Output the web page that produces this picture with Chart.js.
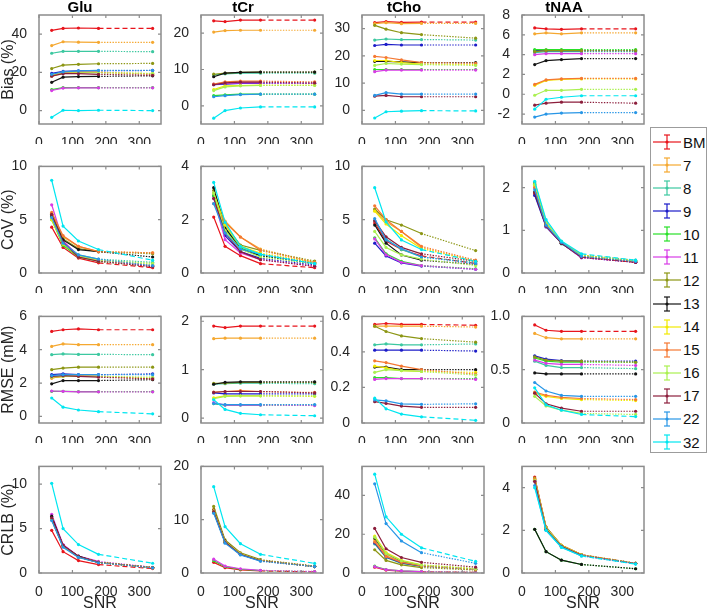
<!DOCTYPE html>
<html>
<head>
<meta charset="utf-8">
<script src="https://cdn.jsdelivr.net/npm/chart.js@4.4.1/dist/chart.umd.min.js"></script>
<style>
  body { margin: 0; background: #fff; width: 709px; height: 611px; position: relative; overflow: hidden; font-family: "Liberation Sans", Arial, sans-serif; }
  canvas { position: absolute; }
  #legend { position: absolute; left: 650px; top: 127px; width: 57px; height: 326px; border: 1px solid #9c9c9c; box-sizing: border-box; background: #fff; }
  .item { position: absolute; left: 1px; height: 20px; display: flex; align-items: center; font-size: 15px; color: #111; }
  .item svg { display: block; margin-right: 1px; }
</style>
</head>
<body>
<div id="legend"></div>
<script>
const snr = [38, 72, 118, 178, 340];
const xTicks = [0, 100, 200, 300];
const xRange = [0, 365];

const groups = ["BM", "7", "8", "9", "10", "11", "12", "13", "14", "15", "16", "17", "22", "32"];
const colors = ["#e8141c", "#f5a830", "#3cc8a0", "#1c1cc8", "#28e028", "#d83ce6", "#8c9614",
                "#141414", "#f2ea00", "#f57832", "#aaf050", "#8c1e3c", "#2896e6", "#00e6f0"];

const metabolites = ["Glu", "tCr", "tCho", "tNAA"];
const rowTitles = ["Bias (%)", "CoV (%)", "RMSE (mM)", "CRLB (%)"];

const biasGlu = [
  [42, 43, 43.2, 43, 43], [34, 36, 35.8, 35.7, 35.7], [30, 31, 31, 31, 30.8], [19.5, 20.5, 20.8, 20.8, 21],
  [11, 12, 12, 12, 12], [10.5, 11.8, 11.9, 11.9, 11.9], [22, 23.8, 24.2, 24.5, 24.7], [14.8, 17.5, 17.8, 17.9, 18.2],
  [18.5, 20, 20, 20, 19.3], [18, 19.8, 20.2, 20, 19], [18.2, 19.5, 19.8, 19.8, 19.5], [18, 19.3, 19.3, 19, 18.5],
  [19, 20.3, 20.8, 21, 21], [-3.5, 0.2, 0, 0.2, 0]
];
const biasTCr = [
  [23.4, 23.2, 23.6, 23.6, 23.6], [20.3, 20.7, 20.8, 20.8, 20.8], [8.5, 8.8, 9.0, 9.0, 9.0], [5.8, 6.0, 6.2, 6.2, 6.2],
  [2.8, 3.0, 3.2, 3.2, 3.2], [6.0, 6.2, 6.3, 6.3, 6.2], [8.7, 9.0, 9.2, 9.3, 9.3], [8.0, 9.0, 9.2, 9.3, 9.3],
  [4.5, 5.5, 5.6, 5.7, 5.7], [6.0, 6.6, 6.8, 6.8, 6.6], [4.2, 5.2, 5.5, 5.6, 5.6], [5.8, 6.3, 6.5, 6.5, 6.3],
  [2.5, 2.8, 3.1, 3.2, 3.2], [-3.4, -1.3, -0.6, -0.3, -0.3]
];
const biasTCho = [
  [32.2, 32.6, 32.3, 32.4, 32.4], [31.8, 32.2, 31.8, 31.9, 31.9], [25.8, 26.2, 26, 26, 25.8], [23.8, 24.2, 24, 24, 24],
  [15, 15, 15, 15, 15], [14.2, 14.8, 14.8, 14.8, 14.8], [31.2, 29.8, 28.5, 27.8, 26.5], [18, 18, 17.8, 17.5, 17.5],
  [18.3, 18.3, 17.5, 17, 16.8], [19.8, 19.4, 18.5, 17.5, 17.3], [16.5, 17.2, 17, 16.8, 16.5], [5.2, 5.5, 5, 5, 5],
  [5.5, 6.5, 6, 6, 6], [-2.8, -0.5, -0.3, -0.1, -0.2]
];
const biasTNAA = [
  [6.7, 6.6, 6.55, 6.6, 6.6], [6.1, 6.2, 6.1, 6.2, 6.2], [4.2, 4.3, 4.3, 4.3, 4.3], [4.4, 4.4, 4.4, 4.4, 4.4],
  [4.5, 4.5, 4.5, 4.5, 4.5], [4.0, 4.1, 4.1, 4.1, 4.1], [4.3, 4.4, 4.4, 4.4, 4.4], [3.0, 3.4, 3.5, 3.6, 3.6],
  [0.9, 1.4, 1.5, 1.55, 1.55], [1.0, 1.45, 1.55, 1.6, 1.6], [-0.1, 0.4, 0.4, 0.5, 0.5], [-1.1, -0.9, -0.8, -0.8, -0.9],
  [-2.3, -2.0, -1.9, -1.85, -1.85], [-1.5, -0.5, -0.3, -0.15, -0.15]
];

const covGlu = [
  [4.3, 2.4, 1.4, 0.95, 0.5], [5.6, 3.4, 2.5, 2.0, 1.9], [5.3, 2.9, 1.7, 1.3, 1.0], [5.4, 2.7, 1.6, 1.2, 0.7],
  [5.0, 2.6, 1.5, 1.1, 0.6], [6.4, 3.0, 1.6, 1.2, 0.6], [5.5, 3.2, 2.3, 2.0, 1.8], [5.3, 3.1, 2.2, 2.0, 1.5],
  [5.0, 2.7, 1.6, 1.2, 0.8], [5.7, 3.5, 2.5, 2.0, 1.9], [5.2, 2.8, 1.6, 1.2, 0.9], [5.5, 2.9, 1.5, 1.1, 0.6],
  [5.2, 2.8, 1.7, 1.3, 0.7], [8.7, 4.4, 3.0, 2.2, 1.2]
];
const covTCr = [
  [2.1, 1.0, 0.65, 0.35, 0.2], [2.9, 1.95, 1.35, 0.9, 0.4], [3.0, 1.7, 1.0, 0.7, 0.4], [2.9, 1.4, 0.8, 0.55, 0.3],
  [2.9, 1.6, 0.95, 0.65, 0.35], [2.8, 1.25, 0.75, 0.5, 0.25], [3.1, 1.8, 1.05, 0.85, 0.45], [3.2, 1.7, 0.9, 0.65, 0.35],
  [3.0, 1.8, 1.0, 0.75, 0.4], [2.6, 1.9, 1.35, 0.85, 0.4], [3.0, 1.6, 0.9, 0.6, 0.35], [2.8, 1.5, 0.8, 0.5, 0.25],
  [2.6, 1.5, 0.9, 0.7, 0.35], [3.4, 1.9, 1.0, 0.7, 0.35]
];
const covTCho = [
  [4.7, 3.0, 2.2, 1.6, 0.9], [5.9, 4.8, 3.9, 2.4, 1.1], [4.9, 3.2, 2.2, 1.5, 1.0], [2.8, 1.6, 0.95, 0.65, 0.35],
  [3.3, 1.8, 1.1, 0.7, 0.4], [3.2, 1.7, 1.0, 0.7, 0.35], [6.0, 5.0, 4.5, 3.7, 2.1], [4.5, 2.8, 1.7, 1.2, 0.8],
  [5.8, 4.6, 3.5, 2.3, 1.1], [6.3, 5.0, 3.9, 2.5, 1.2], [3.9, 2.4, 1.7, 1.3, 0.7], [4.9, 3.4, 2.4, 1.8, 1.1],
  [5.1, 3.1, 2.3, 1.5, 0.9], [8.0, 4.8, 3.1, 2.2, 1.1]
];
const covTNAA = [
  [1.85, 1.1, 0.7, 0.37, 0.25], [2.05, 1.15, 0.72, 0.4, 0.27], [2.12, 1.2, 0.68, 0.42, 0.3], [1.82, 1.08, 0.7, 0.36, 0.25],
  [2.08, 1.15, 0.7, 0.4, 0.28], [2.0, 1.1, 0.7, 0.36, 0.25], [2.1, 1.15, 0.72, 0.42, 0.28], [1.9, 1.12, 0.7, 0.38, 0.26],
  [2.05, 1.18, 0.74, 0.42, 0.28], [2.0, 1.15, 0.72, 0.4, 0.27], [2.08, 1.17, 0.73, 0.41, 0.28], [1.88, 1.1, 0.7, 0.37, 0.25],
  [1.95, 1.12, 0.72, 0.39, 0.27], [2.15, 1.25, 0.75, 0.45, 0.3]
];

const rmseGlu = [
  [5.1, 5.2, 5.25, 5.2, 5.2], [4.2, 4.35, 4.3, 4.3, 4.3], [3.7, 3.75, 3.72, 3.72, 3.7], [2.5, 2.55, 2.5, 2.5, 2.55],
  [1.5, 1.5, 1.48, 1.48, 1.48], [1.52, 1.5, 1.47, 1.47, 1.47], [2.8, 2.9, 2.95, 2.95, 2.95], [1.95, 2.15, 2.15, 2.15, 2.2],
  [2.3, 2.4, 2.4, 2.4, 2.3], [2.3, 2.4, 2.45, 2.4, 2.25], [2.35, 2.4, 2.4, 2.4, 2.35], [2.4, 2.45, 2.4, 2.35, 2.25],
  [2.45, 2.5, 2.5, 2.5, 2.5], [1.1, 0.55, 0.38, 0.28, 0.15]
];
const rmseTCr = [
  [1.9, 1.87, 1.9, 1.9, 1.9], [1.64, 1.65, 1.65, 1.65, 1.65], [0.7, 0.71, 0.72, 0.72, 0.71], [0.52, 0.5, 0.5, 0.5, 0.5],
  [0.3, 0.27, 0.27, 0.27, 0.27], [0.32, 0.27, 0.27, 0.27, 0.26], [0.72, 0.72, 0.74, 0.74, 0.74], [0.7, 0.74, 0.75, 0.75, 0.75],
  [0.42, 0.46, 0.46, 0.46, 0.45], [0.54, 0.55, 0.57, 0.55, 0.53], [0.4, 0.45, 0.46, 0.46, 0.46], [0.53, 0.55, 0.55, 0.55, 0.52],
  [0.3, 0.28, 0.28, 0.28, 0.28], [0.38, 0.18, 0.1, 0.07, 0.05]
];
const rmseTCho = [
  [0.555, 0.56, 0.555, 0.555, 0.55], [0.545, 0.545, 0.545, 0.545, 0.54], [0.44, 0.445, 0.44, 0.44, 0.445], [0.41, 0.41, 0.41, 0.41, 0.405],
  [0.255, 0.255, 0.25, 0.25, 0.25], [0.245, 0.25, 0.25, 0.25, 0.245], [0.545, 0.515, 0.49, 0.475, 0.455], [0.315, 0.315, 0.3, 0.3, 0.3],
  [0.32, 0.31, 0.295, 0.29, 0.285], [0.35, 0.34, 0.32, 0.3, 0.275], [0.285, 0.3, 0.295, 0.29, 0.27], [0.12, 0.11, 0.095, 0.088, 0.088],
  [0.13, 0.125, 0.108, 0.105, 0.108], [0.14, 0.08, 0.05, 0.035, 0.015]
];
const rmseTNAA = [
  [0.92, 0.87, 0.86, 0.86, 0.86], [0.84, 0.8, 0.79, 0.79, 0.79], [0.58, 0.54, 0.52, 0.52, 0.51], [0.63, 0.6, 0.585, 0.58, 0.58],
  [0.61, 0.58, 0.57, 0.57, 0.57], [0.59, 0.56, 0.55, 0.55, 0.54], [0.62, 0.59, 0.58, 0.58, 0.57], [0.47, 0.46, 0.46, 0.46, 0.46],
  [0.28, 0.25, 0.23, 0.22, 0.21], [0.29, 0.26, 0.24, 0.23, 0.22], [0.25, 0.16, 0.12, 0.09, 0.08], [0.28, 0.18, 0.14, 0.11, 0.11],
  [0.38, 0.3, 0.26, 0.25, 0.25], [0.33, 0.17, 0.12, 0.08, 0.06]
];

const crlbGlu = [
  [4.8, 2.4, 1.4, 0.95, 0.5], [6.1, 3.0, 1.8, 1.2, 0.6], [6.0, 3.0, 1.8, 1.2, 0.6], [6.0, 3.0, 1.8, 1.2, 0.6],
  [6.2, 3.1, 1.85, 1.2, 0.62], [6.6, 3.2, 1.9, 1.3, 0.65], [6.1, 3.0, 1.8, 1.2, 0.6], [6.4, 3.1, 1.9, 1.2, 0.62],
  [6.0, 3.0, 1.8, 1.2, 0.6], [6.1, 3.0, 1.8, 1.2, 0.6], [6.0, 3.0, 1.8, 1.2, 0.6], [6.2, 3.1, 1.85, 1.2, 0.6],
  [5.9, 2.9, 1.75, 1.15, 0.58], [10.1, 5.0, 3.2, 2.1, 1.1]
];
const crlbTCr = [
  [2.0, 1.0, 0.6, 0.4, 0.2], [12.0, 6.0, 3.7, 2.4, 1.25], [11.5, 5.8, 3.5, 2.3, 1.2], [11.5, 5.8, 3.5, 2.3, 1.2],
  [2.3, 1.2, 0.7, 0.45, 0.25], [2.6, 1.3, 0.8, 0.5, 0.28], [12.5, 6.2, 3.8, 2.5, 1.3], [11.8, 6.0, 3.6, 2.4, 1.2],
  [11.6, 5.9, 3.6, 2.35, 1.2], [11.7, 5.9, 3.6, 2.35, 1.2], [11.6, 5.9, 3.6, 2.35, 1.2], [11.5, 5.8, 3.5, 2.3, 1.2],
  [11.2, 5.6, 3.4, 2.2, 1.2], [16.2, 8.7, 5.5, 3.5, 1.8]
];
const crlbTCho = [
  [3.0, 1.5, 0.9, 0.6, 0.3], [17, 9, 5.8, 3.8, 2], [15, 8, 5, 3.4, 1.8], [15.5, 8.2, 5.2, 3.5, 1.8],
  [3.5, 1.8, 1.1, 0.7, 0.35], [3.3, 1.7, 1.1, 0.7, 0.35], [12, 6.5, 4.2, 2.8, 1.5], [18, 10, 6.2, 4, 2],
  [19, 10.5, 6.5, 4.2, 2.2], [16, 8.5, 5.5, 3.6, 1.8], [18.5, 10, 6.3, 4.1, 2.1], [23, 12.5, 8, 5.5, 3],
  [46, 25.5, 16.5, 10.5, 5], [51, 29, 20, 13, 6]
];
const crlbTNAA = [
  [4.5, 2.15, 1.3, 0.85, 0.45], [4.4, 2.1, 1.3, 0.85, 0.45], [4.3, 2.05, 1.25, 0.83, 0.44], [4.35, 2.1, 1.28, 0.84, 0.45],
  [2.05, 1.0, 0.6, 0.4, 0.2], [4.3, 2.05, 1.25, 0.83, 0.44], [4.45, 2.15, 1.3, 0.86, 0.46], [2.05, 1.0, 0.6, 0.4, 0.2],
  [4.4, 2.1, 1.3, 0.85, 0.45], [4.4, 2.1, 1.3, 0.85, 0.45], [4.35, 2.1, 1.28, 0.84, 0.45], [4.3, 2.05, 1.25, 0.83, 0.44],
  [4.1, 2.0, 1.22, 0.8, 0.43], [4.0, 2.0, 1.2, 0.8, 0.42]
];

// y limits and ticks per row, one entry per metabolite
const biasRange = [[-7, 50], [-5, 25], [-5, 35], [-3, 8]];
const covRange = [[0, 10], [0, 4], [0, 10], [0, 2.5]];
const rmseRange = [[-0.4, 6], [-0.1, 2.1], [0, 0.6], [0, 1]];
const crlbRange = [[0, 12], [0, 20], [0, 55], [0, 5]];
const biasTicks = [[0, 20, 40], [0, 10, 20], [0, 10, 20, 30], [-2, 0, 2, 4, 6, 8]];
const covTicks = [[0, 5, 10], [0, 2, 4], [0, 5, 10], [0, 1, 2]];
const rmseTicks = [[0, 2, 4, 6], [0, 1, 2], [0, 0.2, 0.4, 0.6], [0, 0.5, 1]];
const crlbTicks = [[0, 5, 10], [0, 10, 20], [0, 20, 40], [0, 2, 4]];

const panels = [
  [biasGlu, biasTCr, biasTCho, biasTNAA],
  [covGlu, covTCr, covTCho, covTNAA],
  [rmseGlu, rmseTCr, rmseTCho, rmseTNAA],
  [crlbGlu, crlbTCr, crlbTCho, crlbTNAA]
];
const ranges = [biasRange, covRange, rmseRange, crlbRange];
const yTicks = [biasTicks, covTicks, rmseTicks, crlbTicks];

// where the plot boxes sit on the page
const colLeft = [39, 201, 362, 522];
const boxW = 122;
const rowTop = [15, 166, 316, 466];
const rowH = [109, 107, 107, 107];
const frameColor = "#8c8c8c";

Chart.defaults.font.family = '"Liberation Sans", Arial, sans-serif';
Chart.defaults.color = "#262626";

// box round the plot area with small inward tick marks, like MATLAB axes
const axesBox = {
  id: "axesBox",
  afterDraw(chart) {
    const ctx = chart.ctx;
    const a = chart.chartArea;
    const x = chart.scales.x, y = chart.scales.y;
    ctx.save();
    ctx.setLineDash([]);
    ctx.strokeStyle = frameColor;
    ctx.lineWidth = 1.5;
    ctx.strokeRect(a.left, a.top, a.right - a.left, a.bottom - a.top);
    ctx.lineWidth = 1.2;
    ctx.beginPath();
    x.ticks.forEach(tk => {
      const px = x.getPixelForValue(tk.value);
      ctx.moveTo(px, a.bottom); ctx.lineTo(px, a.bottom - 3);
      ctx.moveTo(px, a.top); ctx.lineTo(px, a.top + 3);
    });
    y.ticks.forEach(tk => {
      const py = y.getPixelForValue(tk.value);
      ctx.moveTo(a.left, py); ctx.lineTo(a.left + 3, py);
      ctx.moveTo(a.right, py); ctx.lineTo(a.right - 3, py);
    });
    ctx.stroke();
    ctx.restore();
  }
};

function dashFor(name) {
  return (name === "BM" || name === "32") ? [5, 3] : [1.4, 1.4];
}

for (let r = 0; r < 4; r++) {
  for (let c = 0; c < 4; c++) {
    const yw = c === 0 ? 40 : 38;
    const padTop = r === 0 ? 15 : 12;
    const xh = r === 3 ? 40 : 20;
    const canvas = document.createElement("canvas");
    canvas.width = boxW + 2 * yw;
    canvas.height = padTop + rowH[r] + xh;
    canvas.style.left = (colLeft[c] - yw) + "px";
    canvas.style.top = (rowTop[r] - padTop) + "px";
    document.body.appendChild(canvas);

    const series = panels[r][c];
    const yr = ranges[r][c];
    new Chart(canvas, {
      type: "line",
      data: {
        datasets: groups.map((g, i) => ({
          label: g,
          data: series[i].map((v, k) => ({ x: snr[k], y: v })),
          borderColor: colors[i],
          backgroundColor: colors[i],
          borderWidth: 1.2,
          pointRadius: 1.6,
          pointBorderWidth: 0,
          order: groups.length - i,
          segment: {
            borderDash: ctx => ctx.p0DataIndex === 3 ? dashFor(g) : undefined
          }
        }))
      },
      options: {
        responsive: false,
        animation: false,
        layout: { padding: { top: r === 0 ? 0 : 12, left: 0, right: yw, bottom: 0 } },
        plugins: {
          legend: { display: false },
          tooltip: { enabled: false },
          title: {
            display: r === 0,
            text: metabolites[c],
            color: "#000",
            font: { size: 15, weight: "bold", lineHeight: 1 },
            padding: { top: 0, bottom: 0 }
          }
        },
        scales: {
          x: {
            type: "linear",
            min: xRange[0],
            max: xRange[1],
            grid: { display: false },
            border: { display: false },
            afterBuildTicks: s => { s.ticks = xTicks.map(v => ({ value: v })); },
            afterFit: s => { s.height = xh; },
            ticks: { autoSkip: false, maxRotation: 0, padding: 3, font: { size: 14 } },
            title: {
              display: r === 3,
              text: "SNR",
              font: { size: 16 },
              padding: { top: 0, bottom: 0 }
            }
          },
          y: {
            min: yr[0],
            max: yr[1],
            grid: { display: false },
            border: { display: false },
            afterBuildTicks: s => { s.ticks = yTicks[r][c].map(v => ({ value: v })); },
            afterFit: s => { s.width = yw; },
            ticks: { autoSkip: false, padding: 4, font: { size: 14 } },
            title: {
              display: c === 0,
              text: rowTitles[r],
              font: { size: 16 },
              padding: { top: 0, bottom: 0 }
            }
          }
        }
      },
      plugins: [axesBox]
    });
  }
}

// legend: line with an error bar glyph and the label
const legend = document.getElementById("legend");
groups.forEach((g, i) => {
  const item = document.createElement("div");
  item.className = "item";
  item.style.top = (4 + i * 23.08) + "px";
  item.innerHTML =
    '<svg width="30" height="20"><g stroke="' + colors[i] + '" stroke-width="1.2">' +
    '<line x1="1" y1="10" x2="29" y2="10"/><line x1="15" y1="3" x2="15" y2="17"/>' +
    '<line x1="12" y1="3" x2="18" y2="3"/><line x1="12" y1="17" x2="18" y2="17"/></g>' +
    '<circle cx="15" cy="10" r="1.6" fill="' + colors[i] + '"/></svg>' +
    "<span>" + g + "</span>";
  legend.appendChild(item);
});
</script>
</body>
</html>
